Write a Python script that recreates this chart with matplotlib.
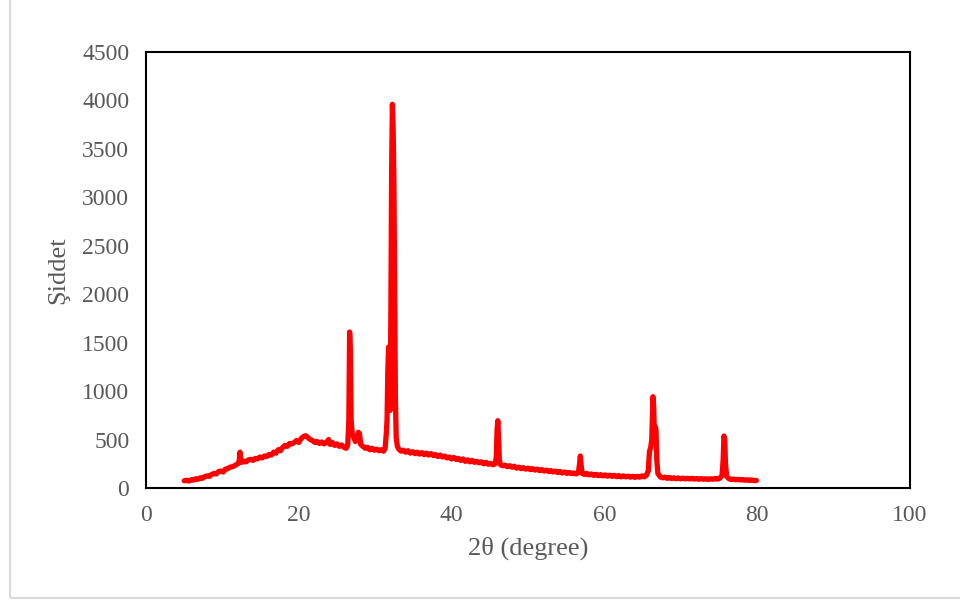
import matplotlib
matplotlib.use("Agg")
import matplotlib.pyplot as plt
from matplotlib.patches import Rectangle

# 2θ (degree) / intensity
TWO_THETA = [
    5.0, 5.3, 5.6, 5.9, 6.2, 6.5, 6.8, 7.1, 7.4, 7.7,
    8.0, 8.3, 8.6, 8.9, 9.2, 9.5, 9.8, 10.1, 10.4, 10.7,
    11.0, 11.3, 11.6, 11.9, 12.1, 12.2, 12.3, 12.4, 12.5, 12.8,
    13.1, 13.4, 13.7, 14.0, 14.3, 14.6, 14.9, 15.2, 15.5, 15.8,
    16.1, 16.4, 16.7, 17.0, 17.3, 17.6, 17.9, 18.2, 18.5, 18.8,
    19.1, 19.4, 19.7, 20.0, 20.3, 20.6, 20.9, 21.2, 21.5, 21.8,
    22.1, 22.4, 22.7, 23.0, 23.3, 23.6, 23.9, 24.1, 24.4, 24.7,
    25.0, 25.3, 25.6, 25.9, 26.2, 26.4, 26.55, 26.65, 26.75, 26.85,
    27.0, 27.2, 27.4, 27.6, 27.8, 27.95, 28.1, 28.4, 28.7, 29.0,
    29.3, 29.6, 29.9, 30.2, 30.5, 30.8, 31.1, 31.3, 31.45, 31.55,
    31.65, 31.75, 31.85, 31.95, 32.05, 32.15, 32.25, 32.35, 32.45, 32.55,
    32.65, 32.75, 32.9, 33.1, 33.4, 33.7, 34.0, 34.3, 34.6, 34.9,
    35.2, 35.5, 35.8, 36.1, 36.4, 36.7, 37.0, 37.3, 37.6, 37.9,
    38.2, 38.5, 38.8, 39.1, 39.4, 39.7, 40.0, 40.3, 40.6, 40.9,
    41.2, 41.5, 41.8, 42.1, 42.4, 42.7, 43.0, 43.3, 43.6, 43.9,
    44.2, 44.5, 44.8, 45.1, 45.4, 45.7, 45.85, 45.95, 46.05, 46.15,
    46.25, 46.4, 46.7, 47.0, 47.3, 47.6, 47.9, 48.2, 48.5, 48.8,
    49.1, 49.4, 49.7, 50.0, 50.3, 50.6, 50.9, 51.2, 51.5, 51.8,
    52.1, 52.4, 52.7, 53.0, 53.3, 53.6, 53.9, 54.2, 54.5, 54.8,
    55.1, 55.4, 55.7, 56.0, 56.3, 56.6, 56.75, 56.85, 56.95, 57.1,
    57.4, 57.7, 58.0, 58.3, 58.6, 58.9, 59.2, 59.5, 59.8, 60.1,
    60.4, 60.7, 61.0, 61.3, 61.6, 61.9, 62.2, 62.5, 62.8, 63.1,
    63.4, 63.7, 64.0, 64.3, 64.6, 64.9, 65.2, 65.5, 65.75, 65.9,
    66.05, 66.2, 66.35, 66.45, 66.55, 66.65, 66.75, 66.85, 67.0, 67.3,
    67.6, 67.9, 68.2, 68.5, 68.8, 69.1, 69.4, 69.7, 70.0, 70.3,
    70.6, 70.9, 71.2, 71.5, 71.8, 72.1, 72.4, 72.7, 73.0, 73.3,
    73.6, 73.9, 74.2, 74.5, 74.8, 75.1, 75.4, 75.55, 75.65, 75.75,
    75.85, 76.0, 76.3, 76.6, 76.9, 77.2, 77.5, 77.8, 78.1, 78.4,
    78.7, 79.0, 79.3, 79.6, 79.9,
]
INTENSITY = [
    75, 80, 72, 85, 82, 95, 90, 105, 100, 118,
    125, 120, 140, 150, 145, 170, 175, 165, 195, 200,
    215, 220, 230, 245, 255, 280, 370, 300, 265, 275,
    270, 290, 295, 285, 305, 300, 320, 310, 330, 325,
    345, 340, 370, 360, 395, 385, 420, 440, 430, 460,
    455, 470, 490, 470, 510, 530, 540, 520, 500, 490,
    470, 480, 460, 475, 455, 470, 500, 450, 470, 440,
    455, 430, 445, 420, 410, 440, 700, 1610, 1400, 700,
    560, 520, 480, 510, 575, 560, 450, 430, 410, 420,
    395, 410, 390, 400, 385, 395, 380, 410, 560, 700,
    1200, 1455, 1300, 800, 1800, 3300, 3960, 3700, 3150, 2000,
    900, 520, 430, 400, 380, 390, 370, 385, 360, 375,
    355, 370, 350, 365, 345, 360, 340, 355, 335, 345,
    325, 340, 320, 330, 310, 320, 300, 315, 295, 305,
    285, 300, 275, 290, 270, 285, 265, 275, 260, 270,
    250, 265, 245, 255, 240, 250, 320, 600, 695, 520,
    290, 240, 230, 235, 220, 230, 215, 225, 205, 215,
    200, 210, 195, 205, 190, 200, 185, 195, 180, 190,
    175, 185, 170, 180, 165, 175, 160, 170, 155, 165,
    150, 160, 150, 155, 145, 160, 250, 330, 240, 150,
    140, 150, 135, 145, 130, 140, 128, 138, 125, 135,
    122, 132, 120, 130, 118, 128, 115, 125, 115, 122,
    112, 120, 110, 120, 112, 125, 115, 130, 180, 380,
    410, 500, 942, 850, 500, 633, 600, 300, 150, 115,
    105, 112, 100, 108, 98, 105, 96, 104, 95, 102,
    94, 100, 93, 100, 92, 98, 90, 97, 90, 96,
    88, 95, 90, 98, 92, 100, 130, 300, 537, 500,
    250, 120, 95, 88, 92, 85, 90, 82, 88, 80,
    85, 78, 83, 76, 78,
]

X_TICKS = [0, 20, 40, 60, 80, 100]
Y_TICKS = [0, 500, 1000, 1500, 2000, 2500, 3000, 3500, 4000, 4500]

plt.rcParams["font.family"] = ["Liberation Serif", "DejaVu Serif"]
TXT = "#595959"

fig = plt.figure(figsize=(9.6, 6.03), dpi=100)
# light chart-area frame (left and bottom edges visible)
fig.patches.append(Rectangle((10 / 960, 1 - 598 / 603), 2, 2, transform=fig.transFigure,
                             facecolor="none", edgecolor="#d9d9d9", linewidth=1.5))

ax = fig.add_axes([146 / 960, 1 - 488 / 603, (910 - 146) / 960, (488 - 52) / 603])
ax.plot(TWO_THETA, INTENSITY, color="#ff0000", linewidth=3.8,
        solid_joinstyle="round", solid_capstyle="round")

ax.set_xlim(0, 100)
ax.set_ylim(0, 4500)
ax.set_xticks(X_TICKS)
ax.set_yticks(Y_TICKS)
ax.tick_params(length=0, labelsize=17, labelcolor=TXT, pad=12)
for s in ax.spines.values():
    s.set_linewidth(1.5)
    s.set_color("black")

ax.set_xlabel("2θ (degree)", fontsize=19, color=TXT, labelpad=8)
ax.set_ylabel("Şiddet", fontsize=19, color=TXT, labelpad=9)

fig.savefig("out.png", dpi=100)
